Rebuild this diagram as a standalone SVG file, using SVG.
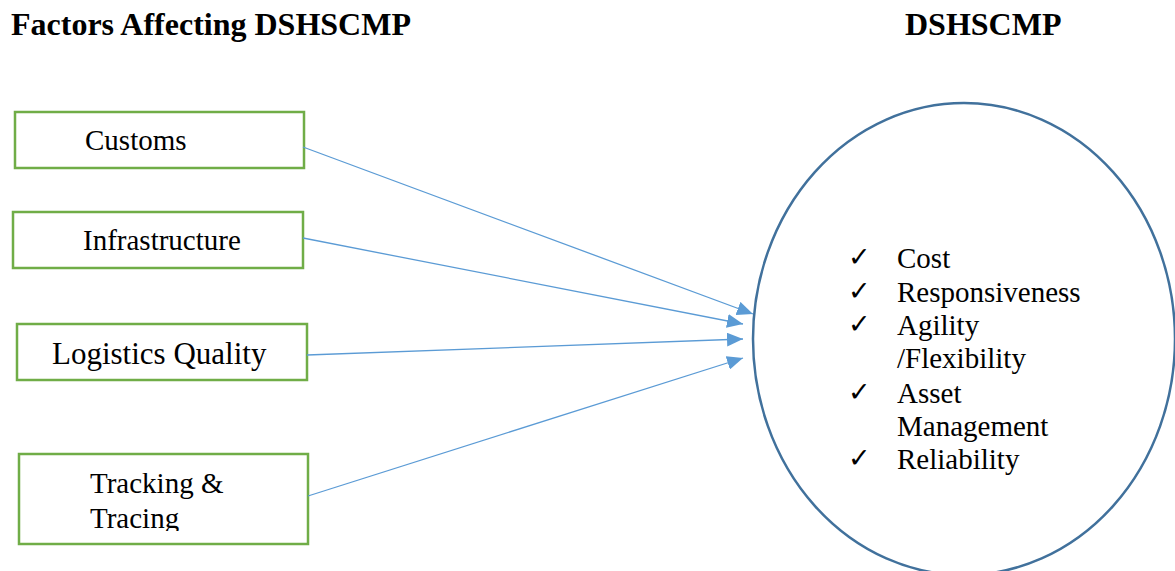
<svg xmlns="http://www.w3.org/2000/svg" width="1175" height="571" viewBox="0 0 1175 571">
<style>
.box{fill:#fff;stroke:#70AD47;stroke-width:2.5}
.t{font-family:"Liberation Serif","Times New Roman",serif;font-size:29px;fill:#000}
.h{font-family:"Liberation Serif","Times New Roman",serif;font-size:32px;font-weight:bold;fill:#000}
.ck{font-family:"DejaVu Sans",sans-serif;font-size:27px;fill:#000}
</style>
<defs>
<marker id="a" viewBox="0 0 16 14" refX="16" refY="7" markerWidth="16" markerHeight="14" markerUnits="userSpaceOnUse" orient="auto">
<path d="M0,0 L16,7 L0,14 Z" fill="#5B9BD5"/>
</marker>
<clipPath id="clipT"><rect x="19" y="454" width="289" height="77"/></clipPath>
</defs>
<rect width="1175" height="571" fill="#fff"/>
<text class="h" x="11" y="35">Factors Affecting DSHSCMP</text>
<text class="h" x="905" y="35">DSHSCMP</text>
<g id="target">
<ellipse cx="964" cy="339" rx="211" ry="236" fill="#fff" stroke="#41719C" stroke-width="2.5"/>
<text class="ck" x="848" y="266">✓</text>
<text class="t" x="897" y="268">Cost</text>
<text class="ck" x="848" y="300">✓</text>
<text class="t" x="897" y="302">Responsiveness</text>
<text class="ck" x="848" y="333">✓</text>
<text class="t" x="897" y="335">Agility</text>
<text class="t" x="897" y="368">/Flexibility</text>
<text class="ck" x="848" y="401">✓</text>
<text class="t" x="897" y="403">Asset</text>
<text class="t" x="897" y="436">Management</text>
<text class="ck" x="848" y="467">✓</text>
<text class="t" x="897" y="469">Reliability</text>
</g>
<g id="customs">
<rect class="box" x="15" y="112" width="289" height="56"/>
<text class="t" x="85" y="150">Customs</text>
</g>
<g id="infrastructure">
<rect class="box" x="13" y="212" width="290" height="56"/>
<text class="t" x="83" y="250">Infrastructure</text>
</g>
<g id="logistics">
<rect class="box" x="17" y="324" width="290" height="56"/>
<text class="t" x="52" y="364" style="font-size:31px">Logistics Quality</text>
</g>
<g id="tracking">
<rect class="box" x="19" y="454" width="289" height="90"/>
<g clip-path="url(#clipT)">
<text class="t" x="90" y="493">Tracking &amp;</text>
<text class="t" x="90" y="528">Tracing</text>
</g>
</g>
<g id="connectors" stroke="#5B9BD5" stroke-width="1.3" fill="none">
<line x1="303" y1="147" x2="753" y2="314" marker-end="url(#a)"/>
<line x1="303" y1="238" x2="743" y2="324" marker-end="url(#a)"/>
<line x1="307" y1="355" x2="743" y2="339" marker-end="url(#a)"/>
<line x1="308" y1="496" x2="743" y2="358" marker-end="url(#a)"/>
</g>
</svg>
